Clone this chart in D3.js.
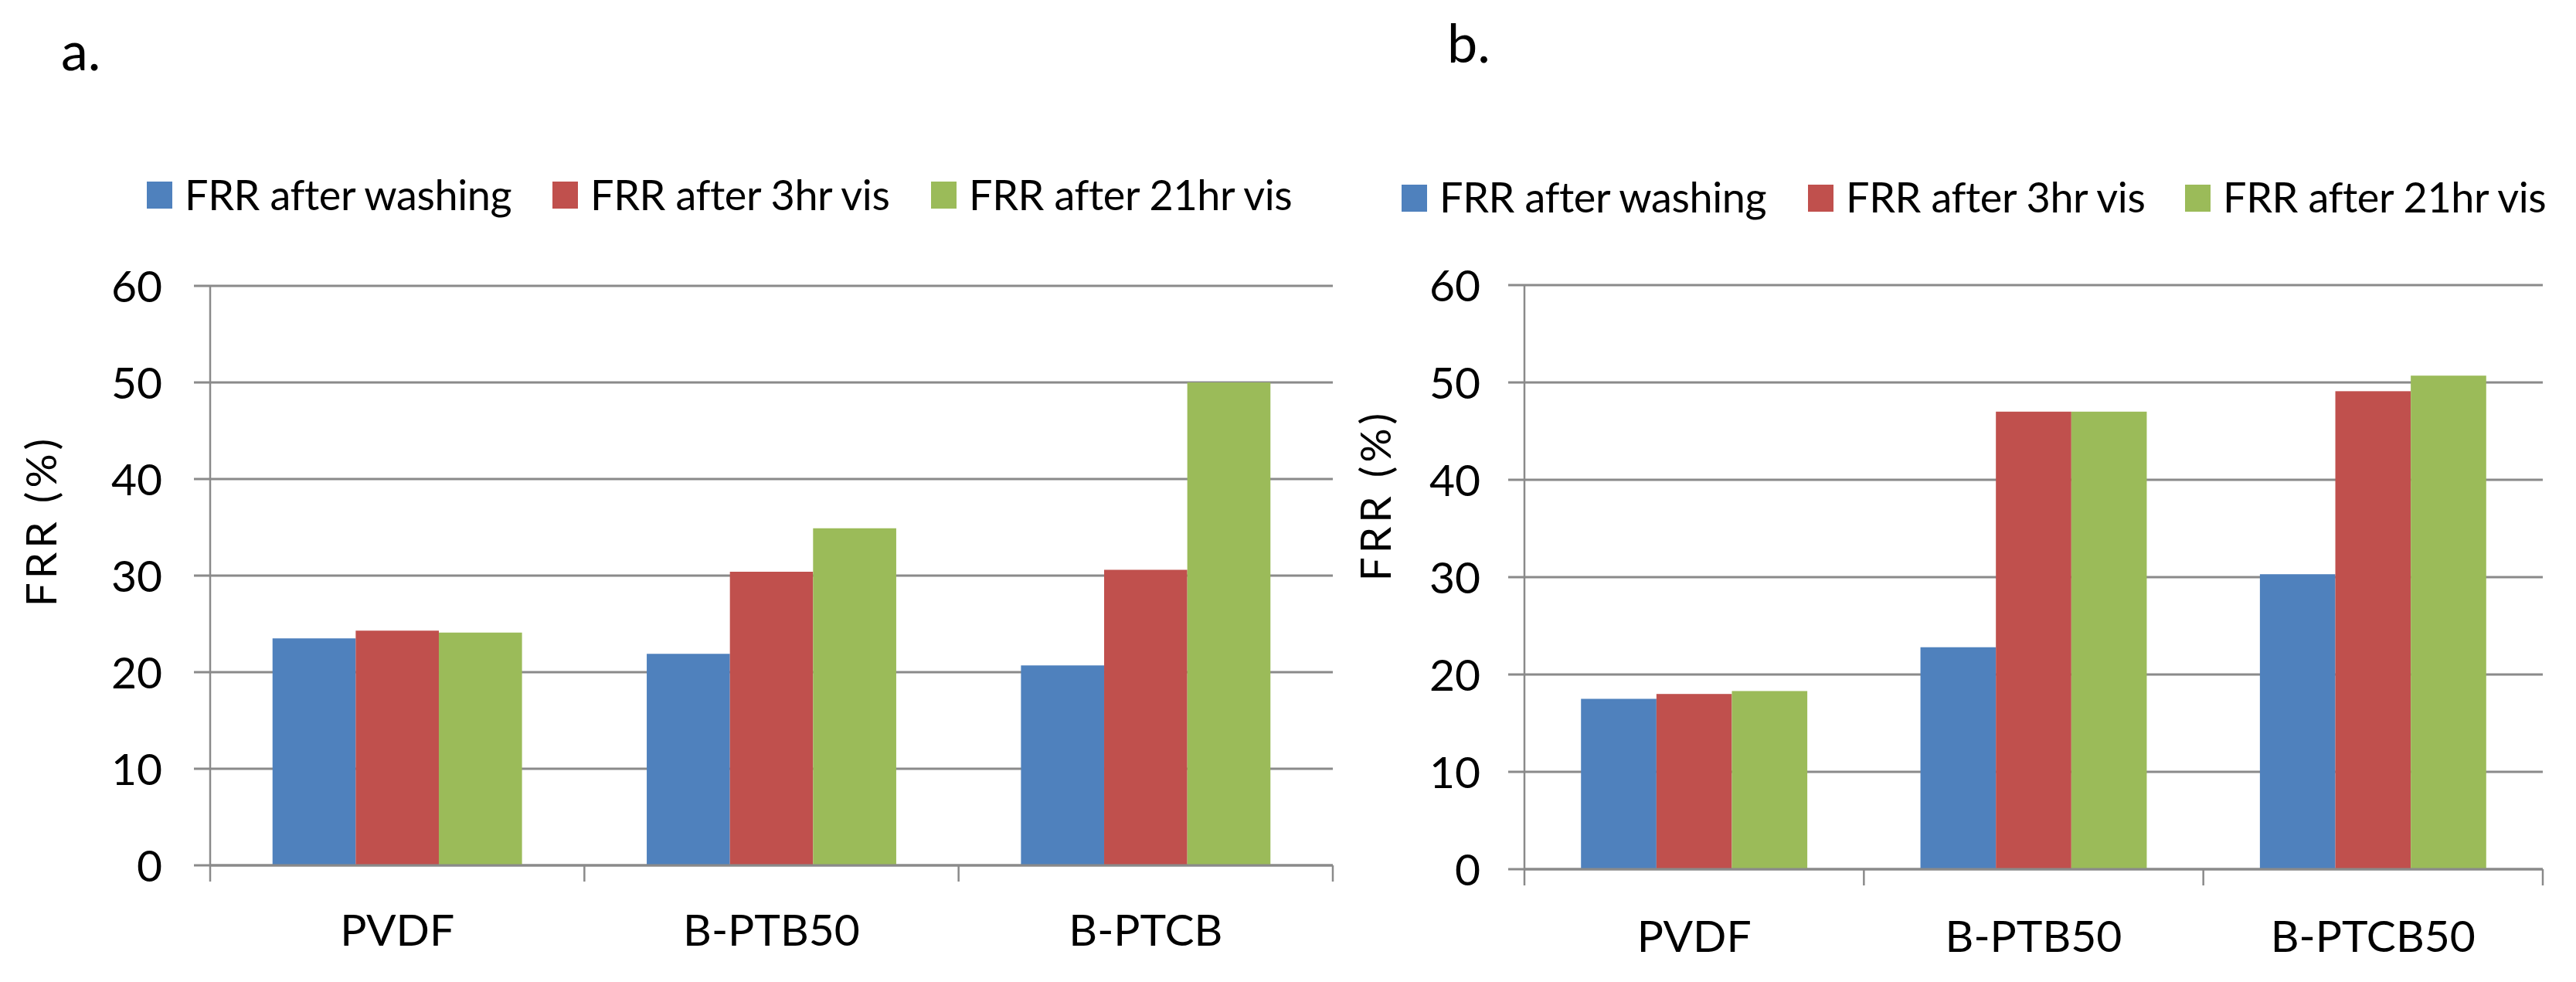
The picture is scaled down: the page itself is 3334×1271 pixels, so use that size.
<!DOCTYPE html>
<html>
<head>
<meta charset="utf-8">
<script src="https://cdn.jsdelivr.net/npm/d3@7"></script>
<style>
  body { margin: 0; background: #fff; }
  text { font-family: Lato, "Open Sans", sans-serif; fill: #000; }
</style>
</head>
<body>
<svg id="chart" width="3334" height="1271"></svg>
<script>
// data
const series = ["FRR after washing", "FRR after 3hr vis", "FRR after 21hr vis"];
const colors = ["#4F81BD", "#C0504D", "#9BBB59"];
const yTicks = [0, 10, 20, 30, 40, 50, 60];

const categoriesA = ["PVDF", "B-PTB50", "B-PTCB"];
const washingA = [23.5, 21.9, 20.7];
const vis3A = [24.3, 30.4, 30.6];
const vis21A = [24.1, 34.9, 50.0];

const categoriesB = ["PVDF", "B-PTB50", "B-PTCB50"];
const washingB = [17.5, 22.8, 30.3];
const vis3B = [18.0, 47.0, 49.1];
const vis21B = [18.3, 47.0, 50.7];

const panels = [
  {
    tag: "a.", tagX: 79, tagY: 91,
    left: 272, right: 1725, top: 370, bottom: 1120,
    legendX: [190, 715, 1205], legendTop: 235, legendBase: 272,
    yLabelX: 53, yLabelY: 674, tickRight: 210, catBase: 1224,
    categories: categoriesA, values: [washingA, vis3A, vis21A]
  },
  {
    tag: "b.", tagX: 1873, tagY: 81,
    left: 1973, right: 3291, top: 369, bottom: 1125,
    legendX: [1814, 2340, 2828], legendTop: 239, legendBase: 275,
    yLabelX: 1780, yLabelY: 641, tickRight: 1916, catBase: 1232,
    categories: categoriesB, values: [washingB, vis3B, vis21B]
  }
];

const svg = d3.select("#chart");
const gridColor = "#8A8A8A";
const fontSize = 57;

function drawPanel(p) {
  const g = svg.append("g");

  const y = d3.scaleLinear().domain([0, 60]).range([p.bottom, p.top]);
  const x0 = d3.scaleBand().domain(p.categories).range([p.left, p.right]).padding(0);
  const bw = x0.bandwidth();
  const x1 = d3.scaleBand().domain(series).range([bw / 6, bw * 5 / 6]).padding(0);

  // gridlines + left tick marks
  g.append("g").selectAll("line")
    .data(yTicks)
    .join("line")
    .attr("x1", p.left - 21)
    .attr("x2", p.right)
    .attr("y1", (d) => y(d))
    .attr("y2", (d) => y(d))
    .attr("stroke", gridColor)
    .attr("stroke-width", 3);

  // tick labels
  g.append("g").selectAll("text")
    .data(yTicks)
    .join("text")
    .attr("x", p.tickRight)
    .attr("y", (d) => y(d))
    .attr("dy", "0.36em")
    .attr("text-anchor", "end")
    .attr("font-size", fontSize)
    .text((d) => d);

  // bars
  const rows = p.categories.map((cat, i) => ({
    cat,
    items: series.map((s, k) => ({ s, k, v: p.values[k][i] }))
  }));

  g.append("g").selectAll("g")
    .data(rows)
    .join("g")
    .attr("transform", (d) => `translate(${x0(d.cat)},0)`)
    .selectAll("rect")
    .data((d) => d.items)
    .join("rect")
    .attr("x", (d) => x1(d.s))
    .attr("width", x1.bandwidth())
    .attr("y", (d) => y(d.v))
    .attr("height", (d) => y(0) - y(d.v))
    .attr("fill", (d) => colors[d.k]);

  // axes lines
  g.append("line")
    .attr("x1", p.left).attr("x2", p.left)
    .attr("y1", p.top).attr("y2", p.bottom + 21)
    .attr("stroke", gridColor).attr("stroke-width", 2.5);

  g.append("line")
    .attr("x1", p.left).attr("x2", p.right)
    .attr("y1", p.bottom).attr("y2", p.bottom)
    .attr("stroke", gridColor).attr("stroke-width", 3);

  const bounds = p.categories.map((c) => x0(c) + bw);
  g.append("g").selectAll("line")
    .data(bounds)
    .join("line")
    .attr("x1", (d) => d).attr("x2", (d) => d)
    .attr("y1", p.bottom).attr("y2", p.bottom + 21)
    .attr("stroke", gridColor).attr("stroke-width", 2.5);

  // category labels
  g.append("g").selectAll("text")
    .data(p.categories)
    .join("text")
    .attr("x", (d) => x0(d) + bw / 2)
    .attr("y", p.catBase)
    .attr("text-anchor", "middle")
    .attr("font-size", fontSize)
    .text((d) => d);

  // y label
  g.append("text")
    .attr("transform", `translate(${p.yLabelX},${p.yLabelY}) rotate(-90)`)
    .attr("dy", "0.36em")
    .attr("text-anchor", "middle")
    .attr("font-size", 55)
    .attr("letter-spacing", 5)
    .text("FRR (%)");

  // legend
  const leg = g.append("g").selectAll("g")
    .data(series)
    .join("g")
    .attr("transform", (d, i) => `translate(${p.legendX[i]},0)`);

  leg.append("rect")
    .attr("y", p.legendTop)
    .attr("width", 33)
    .attr("height", 35)
    .attr("fill", (d, i) => colors[i]);

  leg.append("text")
    .attr("x", 49)
    .attr("y", p.legendBase)
    .attr("font-size", 54)
    .attr("letter-spacing", -0.4)
    .text((d) => d);

  // panel tag
  g.append("text")
    .attr("x", p.tagX)
    .attr("y", p.tagY)
    .attr("font-size", 70)
    .text(p.tag);
}

panels.forEach(drawPanel);
</script>
</body>
</html>
